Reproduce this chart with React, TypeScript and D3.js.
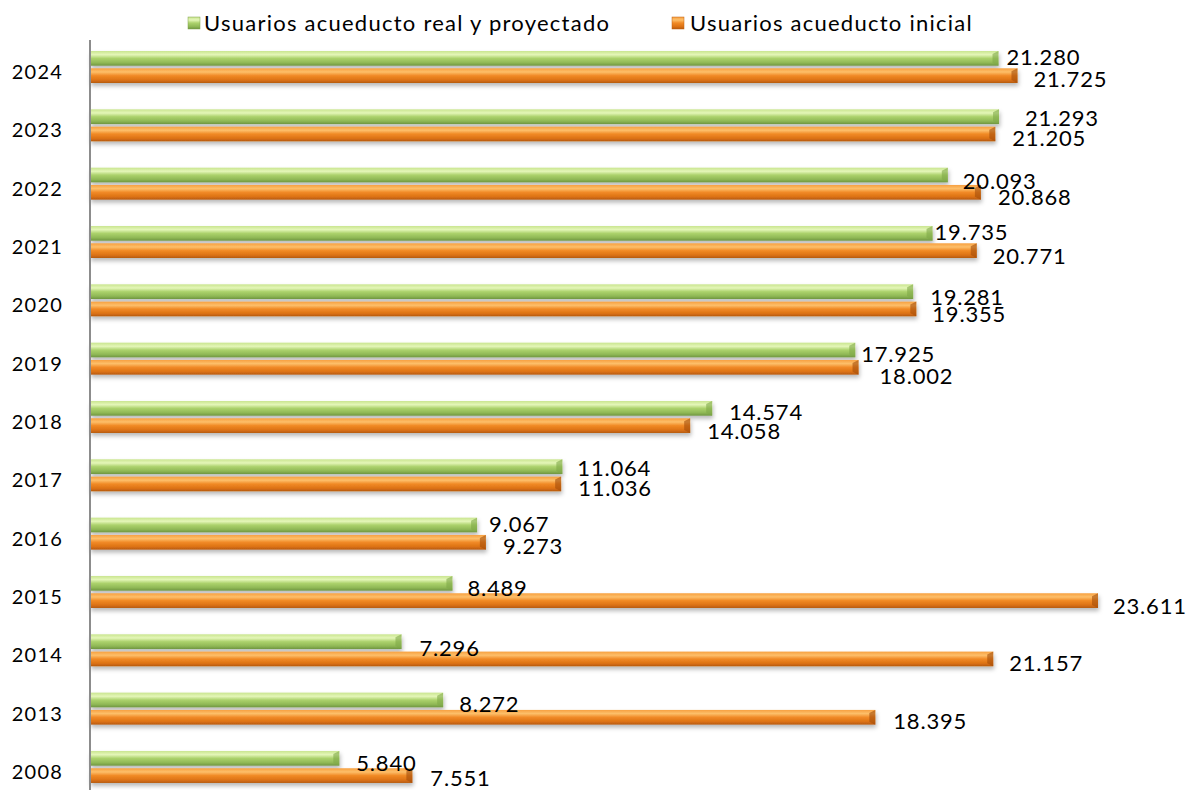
import React from "react";
import * as d3 from "d3";

const years = ["2024", "2023", "2022", "2021", "2020", "2019", "2018", "2017", "2016", "2015", "2014", "2013", "2008"];
const realUsers = [21280, 21293, 20093, 19735, 19281, 17925, 14574, 11064, 9067, 8489, 7296, 8272, 5840];
const initialUsers = [21725, 21205, 20868, 20771, 19355, 18002, 14058, 11036, 9273, 23611, 21157, 18395, 7551];
const seriesNames = ["Usuarios acueducto real y proyectado", "Usuarios acueducto inicial"];

// label nudges (layout only)
const greenLabelDx = [8, 26, 15, 2, 17, 6, 17, 15, 12, 15, 18, 16, 17];
const greenLabelDy = [-1, 1, 6, -1, 5, 4, 4, 1, -1, 5, 6, 4, 5];
const orangeLabelDx = [16, 17, 17, 16, 16, 21, 17, 17, 17, 15, 16, 18, 18];
const orangeLabelDy = [3, 4, 5, 5, 5, 9, 5, 4, 4, 5, 4, 4, 2];

const W = 1191;
const H = 790;
const FONT = "Lato, 'Open Sans', sans-serif";

export default function App() {
  const x = d3.scaleLinear().domain([0, 23611]).range([90, 1098]);
  const y = d3.scaleBand<string>().domain(years).range([43, 43 + 13 * 58.33]).padding(0);
  const sub = d3.scaleBand<string>().domain(["g", "o"]).range([8, 40]).paddingInner(0.15);
  const locale = d3.formatLocale({ decimal: ",", thousands: ".", grouping: [3], currency: ["$", ""] });
  const fmt = locale.format(",d");

  const bar = (v: number, top: number, h: number, grad: string, cap: string, key: string) => {
    const x0 = x(0);
    const x1 = x(v);
    return (
      <g key={key}>
        <rect x={x0} y={top} width={x1 - x0} height={h} fill={`url(#${grad})`} filter="url(#shadow)" />
        <polygon
          points={`${x1 - 6},${top + 3} ${x1},${top} ${x1},${top + h} ${x1 - 6},${top + h - 3}`}
          fill={cap}
          opacity={0.6}
        />
      </g>
    );
  };

  return (
    <svg width={W} height={H} style={{ display: "block", position: "absolute", left: 0, top: 0 }}>
      <defs>
        <linearGradient id="gGreen" x1="0" y1="0" x2="0" y2="1">
          <stop offset="0" stopColor="#c9e58f" />
          <stop offset="0.25" stopColor="#e4f6b8" />
          <stop offset="0.5" stopColor="#acd26c" />
          <stop offset="0.8" stopColor="#8fb855" />
          <stop offset="1" stopColor="#6f9640" />
        </linearGradient>
        <linearGradient id="gOrange" x1="0" y1="0" x2="0" y2="1">
          <stop offset="0" stopColor="#f7a040" />
          <stop offset="0.25" stopColor="#fdbf6a" />
          <stop offset="0.5" stopColor="#f18a26" />
          <stop offset="0.8" stopColor="#dc7214" />
          <stop offset="1" stopColor="#b65a10" />
        </linearGradient>
        <filter id="shadow" x="-5%" y="-50%" width="110%" height="250%">
          <feDropShadow dx="1" dy="3" stdDeviation="2" floodColor="#000" floodOpacity="0.28" />
        </filter>
      </defs>
      <rect width={W} height={H} fill="#fff" />

      {/* legend */}
      <g fontFamily={FONT} fontSize={22} fill="#000">
        <rect x={188} y={17} width={12} height={12} fill="url(#gGreen)" stroke="#7fa04a" strokeWidth={0.5} />
        <text x={204} y={31} letterSpacing={1.25}>{seriesNames[0]}</text>
        <rect x={672} y={17} width={12} height={12} fill="url(#gOrange)" stroke="#c06010" strokeWidth={0.5} />
        <text x={690} y={31} letterSpacing={1.25}>{seriesNames[1]}</text>
      </g>

      {/* bars */}
      {years.map((yr, i) => {
        const b = y(yr)!;
        const gt = b + sub("g")!;
        const ot = b + sub("o")!;
        const h = sub.bandwidth();
        return (
          <g key={yr}>
            {bar(realUsers[i], gt, h, "gGreen", "#7ea847", "g")}
            {bar(initialUsers[i], ot, h, "gOrange", "#a44c0a", "o")}
          </g>
        );
      })}

      {/* axis */}
      <line x1={90} x2={90} y1={40} y2={H} stroke="#8c8c8c" strokeWidth={2} />

      {/* category labels */}
      <g fontFamily={FONT} fontSize={20} fill="#000" textAnchor="end">
        {years.map((yr) => (
          <text key={yr} x={63} y={y(yr)! + y.bandwidth() / 2 + 7} letterSpacing={1.2}>
            {yr}
          </text>
        ))}
      </g>

      {/* value labels */}
      <g fontFamily={FONT} fontSize={22} fill="#000">
        {years.map((yr, i) => {
          const b = y(yr)!;
          const h = sub.bandwidth();
          const gc = b + sub("g")! + h / 2;
          const oc = b + sub("o")! + h / 2;
          return (
            <g key={yr}>
              <text x={x(realUsers[i]) + greenLabelDx[i]} y={gc + greenLabelDy[i] + 8} letterSpacing={0.8}>
                {fmt(realUsers[i])}
              </text>
              <text x={x(initialUsers[i]) + orangeLabelDx[i]} y={oc + orangeLabelDy[i] + 8} letterSpacing={0.8}>
                {fmt(initialUsers[i])}
              </text>
            </g>
          );
        })}
      </g>
    </svg>
  );
}
